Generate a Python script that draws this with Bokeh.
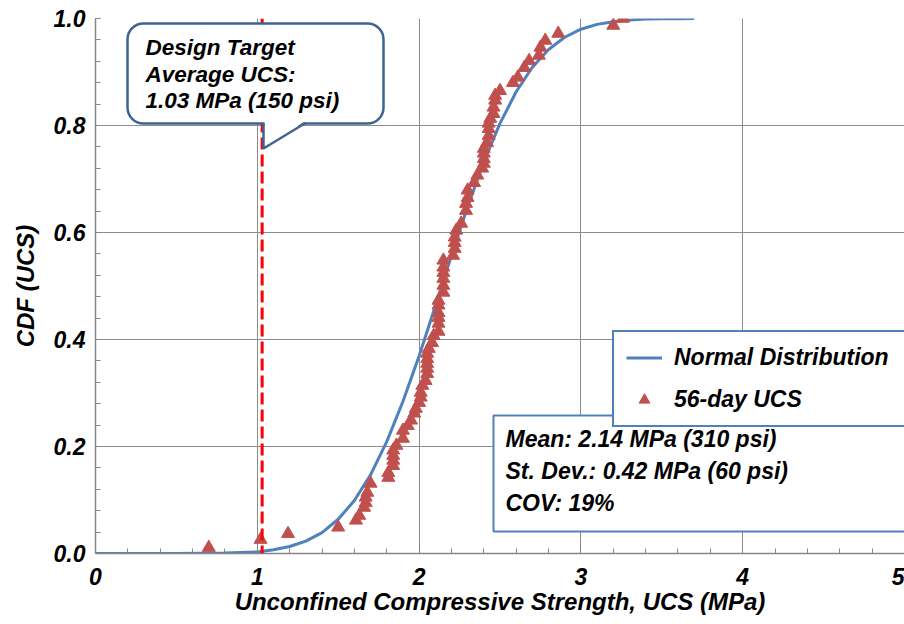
from bokeh.plotting import figure
from bokeh.models import (FixedTicker, PrintfTickFormatter, BoxAnnotation, Label,
                          Legend, LegendItem, Span)
from bokeh.embed import file_html
from bokeh.resources import INLINE

# ---------------- data ----------------
ucs_x = [0.70, 1.02, 1.19, 1.50, 1.61, 1.63, 1.66, 1.67, 1.67, 1.68,
         1.70, 1.81, 1.81, 1.84, 1.84, 1.84, 1.84, 1.86, 1.90, 1.90,
         1.93, 1.95, 1.97, 1.98, 2.00, 2.01, 2.01, 2.02, 2.04, 2.05,
         2.05, 2.05, 2.05, 2.05, 2.06, 2.08, 2.09, 2.12, 2.12, 2.12,
         2.12, 2.12, 2.12, 2.15, 2.15, 2.15, 2.15, 2.15, 2.15, 2.21,
         2.22, 2.22, 2.22, 2.23, 2.26, 2.29, 2.29, 2.30, 2.30, 2.34,
         2.36, 2.39, 2.40, 2.40, 2.40, 2.40, 2.42, 2.43, 2.43, 2.43,
         2.44, 2.46, 2.46, 2.47, 2.47, 2.50, 2.58, 2.61, 2.65, 2.68,
         2.74, 2.75, 2.78, 2.86, 3.20, 3.26]
ucs_cdf = [0.011, 0.026, 0.037, 0.049, 0.062, 0.071, 0.086, 0.095, 0.105, 0.114,
           0.131, 0.142, 0.151, 0.164, 0.174, 0.183, 0.193, 0.202, 0.215, 0.230,
           0.239, 0.249, 0.262, 0.271, 0.282, 0.292, 0.301, 0.314, 0.323, 0.336,
           0.346, 0.355, 0.364, 0.374, 0.383, 0.394, 0.407, 0.415, 0.430, 0.441,
           0.450, 0.464, 0.473, 0.488, 0.501, 0.514, 0.525, 0.535, 0.548, 0.557,
           0.570, 0.581, 0.591, 0.604, 0.617, 0.641, 0.654, 0.665, 0.679, 0.693,
           0.707, 0.720, 0.729, 0.738, 0.748, 0.757, 0.768, 0.781, 0.794, 0.804,
           0.813, 0.822, 0.834, 0.847, 0.856, 0.865, 0.880, 0.890, 0.908, 0.921,
           0.931, 0.946, 0.959, 0.972, 0.987, 1.000]

normal_x = [0.0, 0.5, 0.8, 0.9, 1.0, 1.1, 1.2, 1.3, 1.4, 1.5, 1.6, 1.7, 1.8,
            1.9, 2.0, 2.1, 2.2, 2.3, 2.4, 2.5, 2.6, 2.7, 2.8, 2.9, 3.0, 3.1,
            3.2, 3.3, 3.4, 3.5, 3.6, 3.7]
normal_cdf = [0.000, 0.000, 0.001, 0.002, 0.003, 0.007, 0.013, 0.023, 0.039,
              0.064, 0.099, 0.147, 0.209, 0.284, 0.369, 0.462, 0.557, 0.648,
              0.732, 0.804, 0.863, 0.909, 0.942, 0.965, 0.980, 0.989, 0.994,
              0.997, 0.999, 0.9994, 0.9997, 0.9999]

design_target = 1.03
x_ticks = [0, 1, 2, 3, 4, 5]
y_ticks = [0.0, 0.2, 0.4, 0.6, 0.8, 1.0]
x_minor = [round(i * 0.2, 2) for i in range(26)]
y_minor = [round(i * 0.04, 2) for i in range(26)]

callout_lines = ["Design Target", "Average UCS:", "1.03 MPa (150 psi)"]
stats_lines = ["Mean: 2.14 MPa (310 psi)", "St. Dev.: 0.42 MPa (60 psi)", "COV: 19%"]

FONT = "Liberation Sans"
GRID = "#8C8C8C"
BLUE_LINE = "#4F81BD"
RED_MARK = "#C0504D"

# pixel -> data helpers (for annotation placement only)
def dx(px):
    return (px - 95) / 161.8

def dy(py):
    return (553 - py) / 535.0

p = figure(width=904, height=624, x_range=(0, 5), y_range=(0, 1),
           output_backend="svg", toolbar_location=None,
           min_border_left=95, min_border_right=0,
           min_border_top=18, min_border_bottom=71)
p.outline_line_color = None
p.background_fill_color = "white"

xt = FixedTicker(ticks=x_ticks, minor_ticks=x_minor)
yt = FixedTicker(ticks=y_ticks, minor_ticks=y_minor)
p.xaxis.ticker = xt
p.yaxis.ticker = yt
p.xgrid.ticker = xt
p.ygrid.ticker = yt
p.grid.grid_line_color = GRID
p.grid.grid_line_width = 1
p.yaxis.formatter = PrintfTickFormatter(format="%.1f")

for ax in (p.xaxis, p.yaxis):
    ax.axis_line_color = "#868686"
    ax.axis_line_width = 1.5
    ax.major_tick_in = 5
    ax.major_tick_out = 0
    ax.minor_tick_in = 5
    ax.minor_tick_out = 0
    ax.major_tick_line_color = "#868686"
    ax.minor_tick_line_color = "#868686"
    ax.major_label_text_font = FONT
    ax.major_label_text_font_style = "bold italic"
    ax.major_label_text_font_size = "23px"
    ax.major_label_text_color = "black"
    ax.axis_label_text_font = FONT
    ax.axis_label_text_font_style = "bold italic"
    ax.axis_label_text_font_size = "24px"
    ax.axis_label_text_color = "black"

p.xaxis.axis_label = "Unconfined Compressive Strength, UCS (MPa)"
p.yaxis.axis_label = "CDF (UCS)"
p.xaxis.major_label_standoff = 14
p.xaxis.axis_label_standoff = 0
p.yaxis.major_label_standoff = 10
p.yaxis.axis_label_standoff = 12

# ---------------- glyphs ----------------
r_line = p.line(normal_x, normal_cdf, line_color=BLUE_LINE, line_width=3)
r_pts = p.scatter(ucs_x, ucs_cdf, marker="triangle", size=13,
                  fill_color=RED_MARK, line_color=RED_MARK)

# design target line
p.add_layout(Span(location=design_target, dimension="height", line_color="#FF0000",
                  line_width=3, line_dash="12 5"))

# legend
legend = Legend(items=[LegendItem(label="Normal Distribution", renderers=[r_line]),
                       LegendItem(label="56-day UCS", renderers=[r_pts])],
                location=(517, 126), orientation="vertical",
                border_line_color="#4F81BD", border_line_width=2, border_line_alpha=1,
                background_fill_color="white", background_fill_alpha=1,
                padding=12, spacing=15, margin=0,
                glyph_width=36, glyph_height=27, label_height=27, label_width=240,
                label_standoff=12,
                label_text_font=FONT, label_text_font_style="bold italic",
                label_text_font_size="23px", label_text_color="black")
p.add_layout(legend)

# stats box
p.add_layout(BoxAnnotation(left=dx(493), right=dx(960), top=dy(415), bottom=dy(531),
                           fill_color="white", fill_alpha=1,
                           line_color="#4F81BD", line_width=2, line_alpha=1))
for txt, py in zip(stats_lines, [438, 470, 502]):
    p.add_layout(Label(x=dx(505), y=dy(py), text=txt, text_baseline="middle",
                       text_font=FONT, text_font_style="bold italic",
                       text_font_size="23px", text_color="black"))

# callout box
p.add_layout(BoxAnnotation(left=dx(127), right=dx(383), top=dy(23), bottom=dy(123),
                           fill_color="white", fill_alpha=1,
                           line_color="#3E6491", line_width=2.5, line_alpha=1,
                           border_radius=16))
for txt, py in zip(callout_lines, [47, 74, 100]):
    p.add_layout(Label(x=dx(145), y=dy(py), text=txt, text_baseline="middle",
                       text_font=FONT, text_font_style="bold italic",
                       text_font_size="22.5px", text_color="black"))

# callout tail
p.patch([dx(264), dx(304), dx(264)], [dy(121), dy(121), dy(146)],
        fill_color="white", line_color=None, level="overlay")
p.line([dx(263), dx(263), dx(305)], [dy(122.5), dy(148), dy(122.5)],
       line_color="#3E6491", line_width=2.5, level="overlay")

open("out.html", "w").write(file_html(p, INLINE))
